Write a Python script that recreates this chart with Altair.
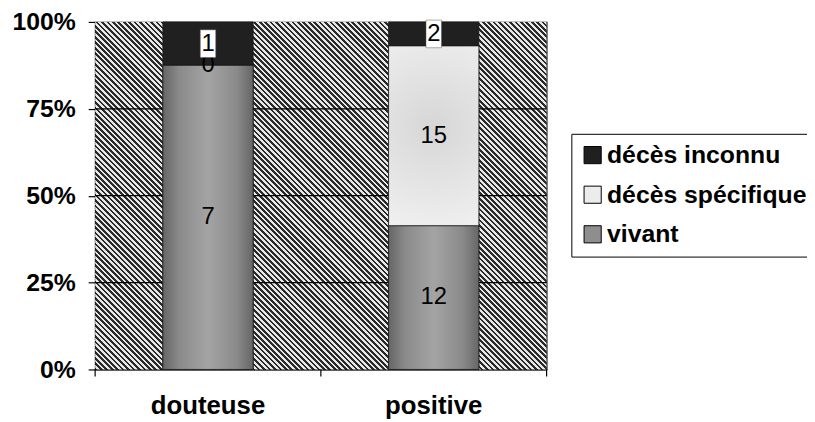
import altair as alt
import pandas as pd

categories = ["douteuse", "positive"]
series = ["vivant", "décès spécifique", "décès inconnu"]
vivant = [7, 12]
deces_specifique = [0, 15]
deces_inconnu = [1, 2]
y_ticks = [0, 0.25, 0.5, 0.75, 1.0]
grid_values = [0.25, 0.5, 0.75]
legend_order = ["décès inconnu", "décès spécifique", "vivant"]
legend_colors = ["#202020", "#ececec", "#8e8e8e"]

rows = []
for i, c in enumerate(categories):
    for k, (s, vals) in enumerate(zip(series, [vivant, deces_specifique, deces_inconnu])):
        rows.append({"cat": c, "serie": s, "value": vals[i], "rank": k})
df = pd.DataFrame(rows)

W, H = 456, 351
FONT = "Liberation Sans"

# diagonal hatch texture (decoration)
n_stripes = 166
dark, light = "#2a2a2a", "#e8e8e8"
stops = []
for j in range(n_stripes):
    a = j / n_stripes
    b = (j + 0.5) / n_stripes
    e = (j + 1) / n_stripes
    stops += [
        alt.GradientStop(offset=a, color=dark),
        alt.GradientStop(offset=b, color=dark),
        alt.GradientStop(offset=b, color=light),
        alt.GradientStop(offset=e, color=light),
    ]
hatch = alt.LinearGradient(gradient="linear", stops=stops, x1=0, y1=1, x2=1, y2=0)

vivant_fill = alt.LinearGradient(
    gradient="linear", x1=0, y1=0, x2=1, y2=0,
    stops=[
        alt.GradientStop(offset=0, color="#666666"),
        alt.GradientStop(offset=0.18, color="#8a8a8a"),
        alt.GradientStop(offset=0.5, color="#a4a4a4"),
        alt.GradientStop(offset=0.82, color="#8a8a8a"),
        alt.GradientStop(offset=1, color="#666666"),
    ],
)
spec_fill = alt.RadialGradient(
    gradient="radial", x1=0.5, y1=0.45, x2=0.5, y2=0.45, r1=0, r2=0.6,
    stops=[
        alt.GradientStop(offset=0, color="#d6d6d6"),
        alt.GradientStop(offset=1, color="#f0f0f0"),
    ],
)

yscale = alt.Scale(domain=[0, 1])
yaxis = alt.Axis(
    title=None, format=".0%", values=y_ticks, grid=False,
    labelFont=FONT, labelFontSize=25, labelFontWeight="bold",
    labelColor="black", labelPadding=13, tickSize=7, tickColor="black",
    domainColor="black", domainWidth=1.2, tickWidth=1.2,
)
xaxis = alt.Axis(
    title=None, labelAngle=0, ticks=False, labelFont=FONT,
    labelFontSize=26, labelFontWeight="bold", labelColor="black",
    labelPadding=23, domainColor="black", domainWidth=1.2,
)
xscale = alt.Scale(domain=categories, paddingInner=0.6, paddingOuter=0.3)

background = alt.Chart(alt.Data(values=[{"k": 1}])).mark_rect(
    fill=hatch, clip=True
).encode(x=alt.value(0), x2=alt.value(W), y=alt.value(0), y2=alt.value(W))

grid = alt.Chart(pd.DataFrame({"g": grid_values})).mark_rule(
    color="black", strokeWidth=1.2
).encode(y=alt.Y("g:Q", scale=yscale, axis=yaxis))

bars = alt.Chart(df).mark_bar(stroke="#1a1a1a", strokeWidth=0.8).encode(
    x=alt.X("cat:N", scale=xscale, axis=xaxis),
    y=alt.Y("value:Q", stack="normalize", scale=yscale, axis=yaxis),
    color=alt.Color(
        "serie:N",
        scale=alt.Scale(domain=legend_order, range=legend_colors),
        legend=alt.Legend(
            title=None, orient="none", legendX=481, legendY=113,
            labelFont=FONT, labelFontSize=25, labelFontWeight="bold",
            labelColor="black", symbolType="square", symbolSize=300,
            symbolStrokeColor="black", symbolStrokeWidth=1, labelOffset=2,
            rowPadding=14, padding=9, strokeColor="black", fillColor="white",
            labelLimit=400,
        ),
    ),
    order=alt.Order("rank:Q", sort="ascending"),
)

stacked = alt.Chart(df).transform_stack(
    stack="value", groupby=["cat"], sort=[alt.SortField("rank", order="ascending")],
    as_=["v0", "v1"], offset="normalize",
).transform_calculate(mid="(datum.v0 + datum.v1) / 2")

vivant_shade = stacked.transform_filter("datum.serie == 'vivant'").mark_bar(
    fill=vivant_fill, stroke="#1a1a1a", strokeWidth=0.8
).encode(
    x=alt.X("cat:N", scale=xscale, axis=xaxis),
    y=alt.Y("v0:Q", scale=yscale, axis=yaxis), y2="v1:Q",
)
spec_shade = stacked.transform_filter("datum.serie == 'décès spécifique' && datum.value > 0").mark_bar(
    fill=spec_fill, stroke="#1a1a1a", strokeWidth=0.8
).encode(
    x=alt.X("cat:N", scale=xscale, axis=xaxis),
    y=alt.Y("v0:Q", scale=yscale, axis=yaxis), y2="v1:Q",
)

ypos = alt.Y("mid:Q", scale=yscale, axis=yaxis)

labels_other = stacked.transform_filter("datum.serie != 'décès inconnu'").mark_text(
    font=FONT, fontSize=24, color="black", baseline="middle"
).encode(x=alt.X("cat:N", scale=xscale, axis=xaxis), y=ypos, text="value:Q")

boxes = stacked.transform_filter("datum.serie == 'décès inconnu'").mark_point(
    shape="M-0.56,-1H0.56V1H-0.56Z", filled=True, fill="white", opacity=1,
    size=780, stroke="#555555", strokeWidth=0.5,
).encode(x=alt.X("cat:N", scale=xscale, axis=xaxis), y=ypos)

labels_top = stacked.transform_filter("datum.serie == 'décès inconnu'").mark_text(
    font=FONT, fontSize=24, color="black", baseline="middle"
).encode(x=alt.X("cat:N", scale=xscale, axis=xaxis), y=ypos, text="value:Q")

tick_layers = [
    alt.Chart(alt.Data(values=[{"k": 1}])).mark_rule(color="black", strokeWidth=1.2).encode(
        x=alt.value(px), y=alt.value(H), y2=alt.value(H + 7)
    )
    for px in (0, W / 2, W)
]

chart = alt.layer(
    background, grid, bars, vivant_shade, spec_shade, labels_other, boxes, labels_top,
    *tick_layers,
).properties(
    width=W, height=H,
    padding={"left": 88, "top": 12, "right": 263, "bottom": 51},
    autosize=alt.AutoSizeParams(type="none"),
    background="white",
).configure_view(stroke="black", strokeWidth=1.2)

chart.save("out.html", embed_options={"renderer": "svg", "actions": False})
